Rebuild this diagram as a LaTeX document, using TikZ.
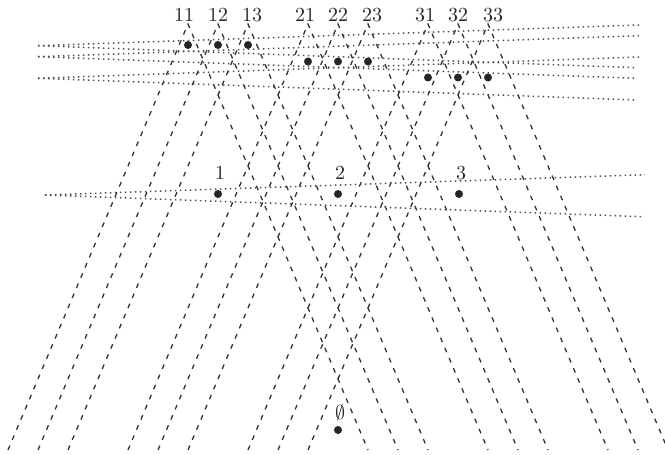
\documentclass[tikz,border=0pt]{standalone}
\usepackage{amsmath}
\usepackage{amssymb}
\usepackage{tikz}
\usetikzlibrary{calc}
\tikzset{
	event/.style={circle, fill=black!85, inner sep=0pt, minimum size=4pt},
	tag/.style={inner sep=0pt, text=black!85},
	cone/.style={line width=0.65pt, black!80, dash pattern=on 2.4pt off 3.1pt},
	slice/.style={line width=0.75pt, black!70, dash pattern=on 0.75pt off 1.75pt}
}

\begin{document}
\begin{tikzpicture}[x=0.5pt, y=-0.5pt]
				\useasboundingbox (0,0) rectangle (665,455);
				% light cones from the top row
				\foreach \n/\x in {11/188, 12/218, 13/248, 21/308, 22/338, 23/368, 31/428, 32/458, 33/488} {
					\coordinate (a\n) at (\x,24);
					\draw[cone] ($(a\n)+(-180,426)$) -- (a\n) -- ($(a\n)+(180,426)$);
				}
				% slices
				\foreach \s/\xs/\ys/\xe/\yu/\yd in {1/38/45.7/639/25/67.7, 2/38/56.7/639/35.7/78.3, 3/38/78.3/639/57/100, 4/45/195/645/174.7/216.7} {
					\coordinate (s\s) at (\xs,\ys);
					\coordinate (u\s) at (\xe,\yu);
					\coordinate (d\s) at (\xe-3,\yd);
					\draw[slice] (s\s) -- (u\s);
					\draw[slice] (s\s) -- (d\s);
				}
				% events
				\foreach \n/\x/\y/\lx in {11/188/45/184, 12/218/45/218, 13/248/45/252, 21/308/61.5/305, 22/338/61.5/338, 23/368/61.5/372, 31/428/77.5/425, 32/458/77.5/458, 33/488/77.5/493} {
					\node[event] (e\n) at (\x,\y) {};
					\node[tag] (t\n) at (\lx,15) {\n};
				}
				\foreach \n/\x in {1/218, 2/338, 3/459} {
					\node[event] (e\n) at (\x,194) {};
					\node[tag] (t\n) at (\x+2,173) {\n};
				}
				\node[event] (e0) at (338,430) {};
				\node[tag] (t0) at (340,413) {$\emptyset$};
			\end{tikzpicture}
\end{document}
